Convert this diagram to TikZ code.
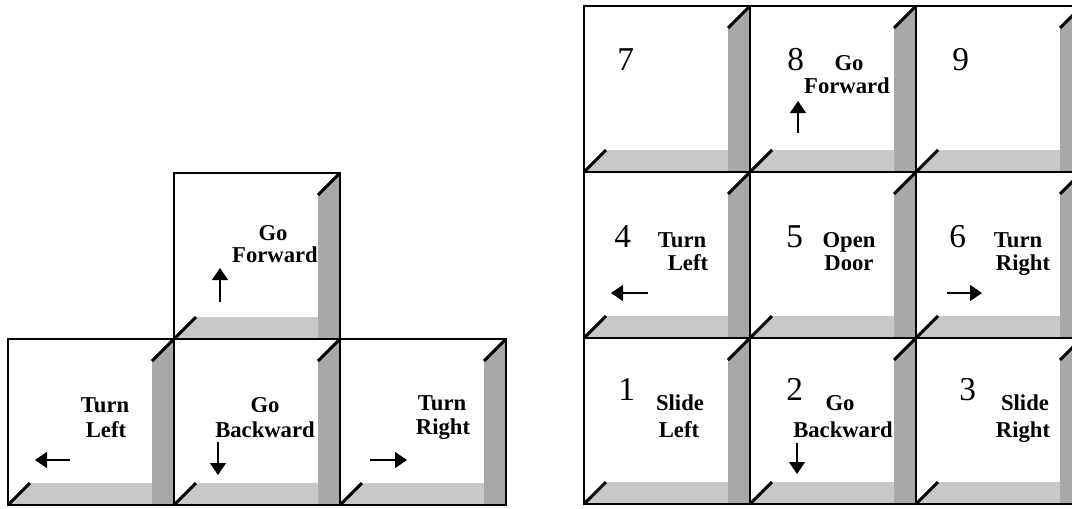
\documentclass[tikz,border=0pt]{standalone}
\usepackage{fontspec}
\setmainfont{Liberation Serif}
\usetikzlibrary{arrows.meta}
\definecolor{bevelright}{HTML}{A8A8A8}
\definecolor{bevelbottom}{HTML}{C8C8C8}
\begin{document}
\begin{tikzpicture}[x=0.75pt,y=-0.75pt,
  keyedge/.style={draw=black,line width=0.9pt},
  diag/.style={draw=black,line width=2.2pt},
  lbl/.style={font=\bfseries\fontsize{17}{17}\selectfont,anchor=base,inner sep=0pt},
  dig/.style={font=\fontsize{25}{25}\selectfont,anchor=base west,inner sep=0pt},
  arr/.style={draw=black,line width=1pt,-{Triangle[width=12pt,length=9pt]}},
  keycap/.pic={
    \fill[white] (0,0) rectangle (166,166);
    \fill[bevelright] (166,0) -- (166,166) -- (144,166) -- (144,22) -- cycle;
    \fill[bevelbottom] (0,166) -- (22,144) -- (144,144) -- (144,166) -- cycle;
    \draw[keyedge] (0,0) rectangle (166,166);
    \draw[diag] (166,0) -- (144,22);
    \draw[diag] (0,166) -- (22,144);
  }]
\useasboundingbox (0,0) rectangle (1072,508);
\fill[white] (0,0) rectangle (1072,508);
% left cluster
\pic at (174,173) {keycap};
\pic at (8,339) {keycap};
\pic at (174,339) {keycap};
\pic at (340,339) {keycap};
% right grid
\foreach \cx in {584,750,916}{
  \foreach \cy in {6,172,338}{
    \pic at (\cx,\cy) {keycap};
  }
}
% left cluster labels
\node[lbl] (gf1) at (273,240) {Go};
\node[lbl] (gf2) at (275,262) {Forward};
\coordinate (gfa) at (220,302); \coordinate (gfb) at (220,268);
\draw[arr] (gfa) -- (gfb);
\node[lbl] (tl1) at (105,412) {Turn};
\node[lbl] (tl2) at (106,437) {Left};
\coordinate (tla) at (70,460); \coordinate (tlb) at (35,460);
\draw[arr] (tla) -- (tlb);
\node[lbl] (gb1) at (265,412) {Go};
\node[lbl] (gb2) at (265,437) {Backward};
\coordinate (gba) at (218,442); \coordinate (gbb) at (218,475);
\draw[arr] (gba) -- (gbb);
\node[lbl] (tr1) at (442,410) {Turn};
\node[lbl] (tr2) at (443,434) {Right};
\coordinate (tra) at (370,460); \coordinate (trb) at (407,460);
\draw[arr] (tra) -- (trb);
% right grid labels
\node[dig] (d7) at (617,70) {7};
\node[dig] (d8) at (787,70) {8};
\node[lbl] (k8a) at (849,70) {Go};
\node[lbl] (k8b) at (847,93) {Forward};
\coordinate (k8p) at (798,133); \coordinate (k8q) at (798,101);
\draw[arr] (k8p) -- (k8q);
\node[dig] (d9) at (952,70) {9};
\node[dig] (d4) at (614,247) {4};
\node[lbl] (k4a) at (682,247) {Turn};
\node[lbl] (k4b) at (688,270) {Left};
\coordinate (k4p) at (648,293); \coordinate (k4q) at (611,293);
\draw[arr] (k4p) -- (k4q);
\node[dig] (d5) at (786,247) {5};
\node[lbl] (k5a) at (849,247) {Open};
\node[lbl] (k5b) at (849,270) {Door};
\node[dig] (d6) at (949,247) {6};
\node[lbl] (k6a) at (1018,247) {Turn};
\node[lbl] (k6b) at (1023,270) {Right};
\coordinate (k6p) at (947,293); \coordinate (k6q) at (982,293);
\draw[arr] (k6p) -- (k6q);
\node[dig] (d1) at (618,400) {1};
\node[lbl] (k1a) at (680,410) {Slide};
\node[lbl] (k1b) at (679,437) {Left};
\node[dig] (d2) at (786,400) {2};
\node[lbl] (k2a) at (840,410) {Go};
\node[lbl] (k2b) at (843,437) {Backward};
\coordinate (k2p) at (797,443); \coordinate (k2q) at (797,474);
\draw[arr] (k2p) -- (k2q);
\node[dig] (d3) at (959,400) {3};
\node[lbl] (k3a) at (1025,410) {Slide};
\node[lbl] (k3b) at (1023,437) {Right};
\end{tikzpicture}
\end{document}
